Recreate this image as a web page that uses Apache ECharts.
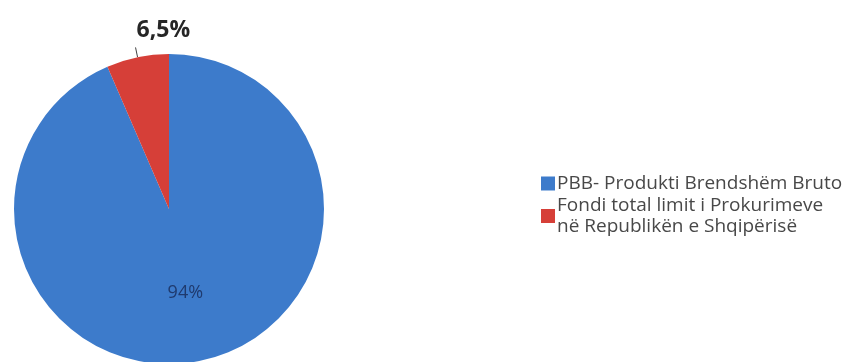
<!DOCTYPE html>
<html>
<head>
<meta charset="utf-8">
<script src="https://cdn.jsdelivr.net/npm/echarts@6/dist/echarts.min.js"></script>
<style>
  html, body { margin: 0; padding: 0; background: #fff; }
  #chart { width: 867px; height: 362px; }
</style>
</head>
<body>
<div id="chart"></div>
<script>
// shares of the pie (percent)
const sliceNames = ['PBB- Produkti Brendshëm Bruto', 'Fondi total limit i Prokurimeve\nnë Republikën e Shqipërisë'];
const sliceValues = [93.5, 6.5];
const sliceLabels = ['94%', '6,5%'];
const sliceColors = ['#3d7bcb', '#d63f38'];

const chart = echarts.init(document.getElementById('chart'));

chart.setOption({
    backgroundColor: '#fff',
    animation: false,
    legend: {
        orient: 'vertical',
        left: 541,
        top: 173,
        padding: 0,
        itemWidth: 14,
        itemHeight: 14,
        itemGap: 1,
        icon: 'rect',
        data: sliceNames,
        textStyle: { fontFamily: 'Open Sans', fontSize: 19, color: '#484848', lineHeight: 21, padding: [0, 0, 0, -3] }
    },
    series: [{
        type: 'pie',
        center: [169, 209],
        radius: 155,
        startAngle: 90,
        clockwise: true,
        data: sliceNames.map((n, i) => ({
            name: n,
            value: sliceValues[i],
            itemStyle: { color: sliceColors[i] },
            label: i === 0
                ? { position: 'inside', color: '#1f3a6e', fontSize: 18, fontFamily: 'Open Sans' }
                : { position: 'outside', color: '#262626', fontSize: 23, fontWeight: 'bold', fontFamily: 'Open Sans' },
            labelLine: i === 0 ? { show: false } : { show: true, length: 10, length2: 0, lineStyle: { color: '#404040', width: 1 } }
        })),
        label: { formatter: p => sliceLabels[p.dataIndex] },
        labelLayout: p => p.dataIndex === 1
            ? { align: 'left', verticalAlign: 'bottom', dx: 6, dy: -5, labelLinePoints: p.labelLinePoints }
            : { dy: 5 },
        emphasis: { disabled: true }
    }]
});
</script>
</body>
</html>
